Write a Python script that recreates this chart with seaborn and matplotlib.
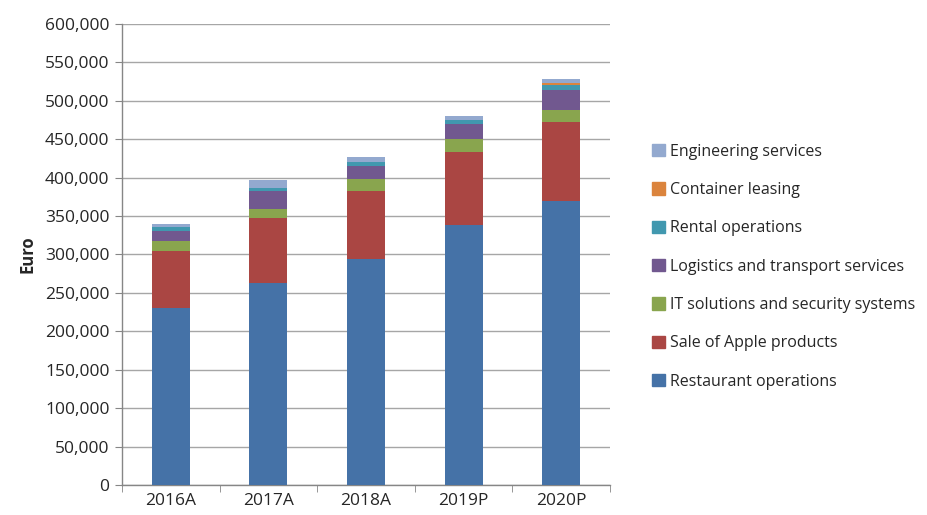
import numpy as np
import pandas as pd
import matplotlib
matplotlib.use("Agg")
import matplotlib.pyplot as plt
import matplotlib.patches as mpatches
from matplotlib.ticker import FuncFormatter, FixedLocator
import seaborn as sns

years = ["2016A", "2017A", "2018A", "2019P", "2020P"]
restaurant = [230000, 263000, 294000, 339000, 369000]
apple = [75000, 84000, 88000, 95000, 103000]
it_security = [12000, 12000, 16500, 16000, 16500]
logistics = [14000, 23500, 17000, 19500, 25000]
rental = [4500, 4500, 4300, 6000, 7000]
container = [0, 0, 0, 0, 2600]
engineering = [4500, 9500, 7000, 5000, 5000]

series_names = ["Restaurant operations", "Sale of Apple products",
                "IT solutions and security systems", "Logistics and transport services",
                "Rental operations", "Container leasing", "Engineering services"]
series_values = [restaurant, apple, it_security, logistics, rental, container, engineering]
colors = ["#4572A7", "#AA4643", "#89A54E", "#71588F", "#4198AF", "#DB843D", "#93A9CF"]

sns.set_style("white")
plt.rcParams["font.family"] = ["Open Sans", "DejaVu Sans"]

fig = plt.figure(figsize=(9.27, 5.15), dpi=100)
ax = fig.add_axes([0.1316, 0.0583, 0.5264, 0.8951])

# stacked bars: draw cumulative totals from the top layer down
cum = np.cumsum(np.array(series_values), axis=0)
for i in range(len(series_names) - 1, -1, -1):
    df = pd.DataFrame({"year": years, "value": cum[i]})
    sns.barplot(data=df, x="year", y="value", color=colors[i], width=0.39,
                saturation=1, linewidth=0, ax=ax, zorder=3)

ax.set_xlim(-0.5, 4.5)
ax.set_ylim(0, 600000)
ax.yaxis.set_major_locator(FixedLocator(np.arange(0, 600001, 50000)))
ax.yaxis.set_major_formatter(FuncFormatter(lambda v, p: f"{int(v):,}"))
ax.grid(axis="y", color="#a6a6a6", linewidth=1, zorder=0)
ax.set_axisbelow(True)

for s in ["top", "right"]:
    ax.spines[s].set_visible(False)
for s in ["left", "bottom"]:
    ax.spines[s].set_color("#868686")
    ax.spines[s].set_linewidth(1)

ax.tick_params(axis="y", which="major", direction="out", length=5, color="#868686",
               labelsize=12.5, pad=4, left=True)
ax.tick_params(axis="x", which="major", length=0, labelsize=12.5, pad=6)
ax.set_xticks(np.arange(-0.5, 4.6, 1), minor=True)
ax.tick_params(axis="x", which="minor", direction="out", length=5, color="#868686", bottom=True)

ax.set_xlabel("")
ax.set_ylabel("Euro", fontsize=12, fontweight="bold", labelpad=6)

handles = [mpatches.Patch(color=c, label=n) for c, n in zip(colors, series_names)][::-1]
fig.legend(handles=handles, loc="center left", bbox_to_anchor=(0.688, 0.482),
           frameon=False, fontsize=11.5, handlelength=0.8, handleheight=0.8,
           handletextpad=0.3, labelspacing=1.4)

fig.savefig("out.png", dpi=100)
